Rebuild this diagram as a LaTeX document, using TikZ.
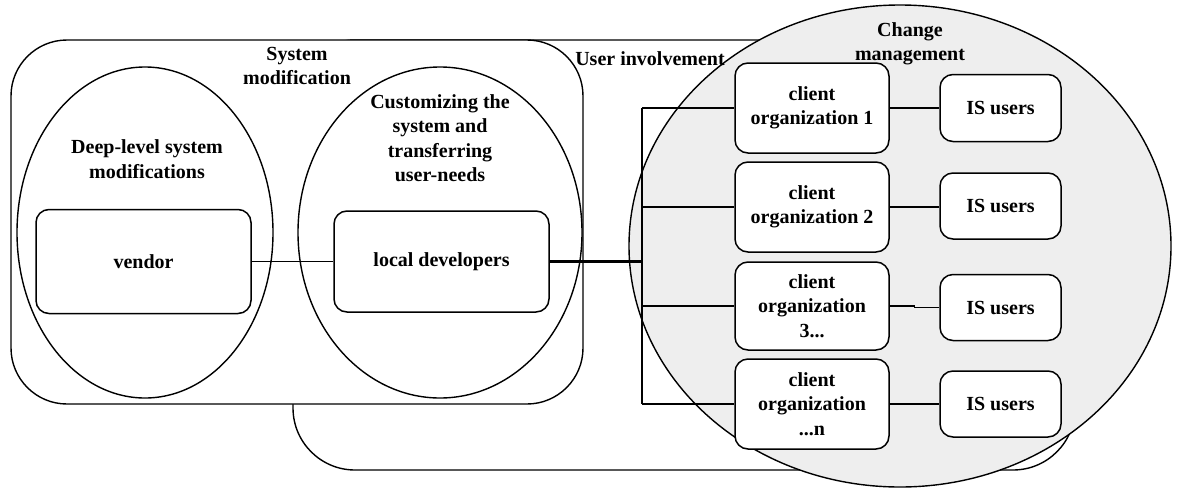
\documentclass[tikz,border=0pt]{standalone}
\usepackage{fontspec}
\setmainfont{Liberation Serif}
\usetikzlibrary{shapes.geometric}
\definecolor{cmfill}{HTML}{EEEEEE}
\begin{document}
\begin{tikzpicture}[x=1pt,y=-1pt,
  lbl/.style={font=\fontsize{20}{24.5}\selectfont\bfseries, align=center, inner sep=0pt},
  container/.style={draw, line width=1.4pt, fill=white, inner sep=0pt},
  oval/.style={ellipse, draw, line width=1.4pt, inner sep=0pt},
  box/.style={draw, line width=1.5pt, rounded corners=13pt, fill=white, lbl},
  conn/.style={line width=1.3pt},
  mainconn/.style={line width=2.8pt}
]
\useasboundingbox (0,0) rectangle (1177,490);
% containers
\node[container, rounded corners=62pt, minimum width=782pt, minimum height=430pt] (ui) at (684,255) {};
\node[container, rounded corners=56pt, minimum width=572pt, minimum height=364pt] (sm) at (297,222) {};
\node[oval, minimum width=256pt, minimum height=331pt] (deep) at (145,232.5) {};
\node[oval, minimum width=284pt, minimum height=331pt] (cust) at (440,232.5) {};
\node[ellipse, draw, line width=1.4pt, fill=cmfill, inner sep=0pt, minimum width=542pt, minimum height=482pt] (cm) at (900,246) {};
% labels
\node[lbl] (smlbl) at (297,66) {System\\modification};
\node[lbl] (deeplbl) at (147,159) {Deep-level system\\modifications};
\node[lbl] (custlbl) at (440,138) {Customizing the\\system and\\transferring\\user-needs};
\node[lbl] (uilbl) at (650,59) {User involvement};
\node[lbl] (cmlbl) at (910,44) {Change\\management};
% boxes
\node[box, minimum width=215pt, minimum height=104pt] (vendor) at (143.5,261.5) {vendor};
\node[box, minimum width=215pt, minimum height=101pt] (ld) at (441.5,261.5) {local developers};
\node[box, minimum width=154pt, minimum height=90pt] (c1) at (812,108) {client\\organization 1};
\node[box, minimum width=154pt, minimum height=90pt] (c2) at (812,207) {client\\organization 2};
\node[box, minimum width=154pt, minimum height=88pt] (c3) at (812,306) {client\\organization\\3...};
\node[box, minimum width=154pt, minimum height=90pt] (cn) at (812,404) {client\\organization\\...n};
\node[box, minimum width=121pt, minimum height=67pt] (is1) at (1000.5,108) {IS users};
\node[box, minimum width=121pt, minimum height=66pt] (is2) at (1000.5,206) {IS users};
\node[box, minimum width=121pt, minimum height=66pt] (is3) at (1000.5,307.5) {IS users};
\node[box, minimum width=121pt, minimum height=66pt] (isn) at (1000.5,404) {IS users};
% connectors
\coordinate (bus) at (642,262);
\draw[conn] (vendor.east) -- (vendor.east -| ld.west);
\draw[mainconn] (ld.east) -- (ld.east -| bus);
\draw[conn] (c1.west -| bus) -- (cn.west -| bus);
\foreach \c in {c1,c2,c3,cn} { \draw[conn] (\c.west -| bus) -- (\c.west); }
\draw[conn] (c1.east) -- (c1.east -| is1.west);
\draw[conn] (c2.east) -- (c2.east -| is2.west);
\draw[conn] (c3.east) -- ++(25,0) |- (is3.west);
\draw[conn] (cn.east) -- (cn.east -| isn.west);
\end{tikzpicture}
\end{document}
